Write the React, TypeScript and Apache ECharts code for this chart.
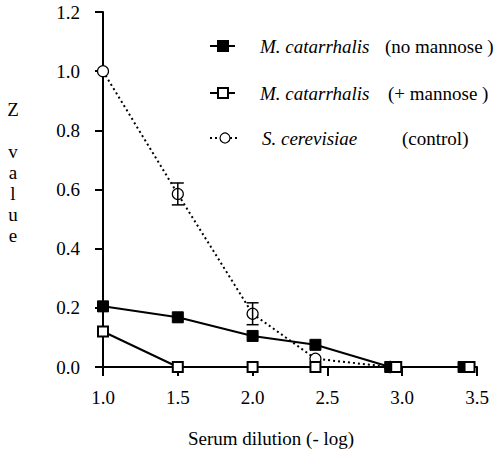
import React, { useEffect, useRef } from "react";
import * as echarts from "echarts";

const FONT = "Liberation Serif";

const xTicks = [1.0, 1.5, 2.0, 2.5, 3.0, 3.5];
const yTicks = [0.0, 0.2, 0.4, 0.6, 0.8, 1.0, 1.2];

const noMannoseX = [1.0, 1.5, 2.0, 2.42, 2.92, 3.41];
const noMannoseY = [0.205, 0.168, 0.105, 0.075, 0.0, 0.0];
const noMannoseErr = [0.015, 0.015, 0.0, 0.01, 0.0, 0.0];

const plusMannoseX = [1.0, 1.5, 2.0, 2.42, 2.96, 3.45];
const plusMannoseY = [0.12, 0.0, 0.0, 0.0, 0.0, 0.0];

const controlX = [1.0, 1.5, 2.0, 2.42, 2.92];
const controlY = [1.0, 0.585, 0.18, 0.028, 0.0];
const controlErr = [0.0, 0.037, 0.037, 0.0, 0.0];

const legendNames = ["M. catarrhalis", "M. catarrhalis", "S. cerevisiae"];
const legendNotes = ["(no mannose )", "(+ mannose )", "(control)"];

const zip = (xs: number[], ys: number[]) => xs.map((x, i) => [x, ys[i]]);

function errorSeries(xs: number[], ys: number[], es: number[], cap: number) {
  const data = xs
    .map((x, i) => [x, ys[i], es[i]])
    .filter((d) => d[2] > 0);
  return {
    type: "custom",
    z: 5,
    data,
    renderItem: (params: any, api: any) => {
      const x = api.value(0);
      const y = api.value(1);
      const e = api.value(2);
      const top = api.coord([x, y + e]);
      const bot = api.coord([x, y - e]);
      const style = { stroke: "#000", lineWidth: 1.5 };
      return {
        type: "group",
        children: [
          { type: "line", shape: { x1: top[0], y1: top[1], x2: bot[0], y2: bot[1] }, style },
          { type: "line", shape: { x1: top[0] - cap, y1: top[1], x2: top[0] + cap, y2: top[1] }, style },
          { type: "line", shape: { x1: bot[0] - cap, y1: bot[1], x2: bot[0] + cap, y2: bot[1] }, style },
        ],
      };
    },
  };
}

export default function App() {
  const ref = useRef<HTMLDivElement>(null);
  useEffect(() => {
    if (!ref.current) return;
    const chart = echarts.init(ref.current, null, { renderer: "svg" });
    const fs = 19;
    const rows = [46, 93, 138];
    const legendGraphics: any[] = [];
    rows.forEach((y, i) => {
      if (i < 2) {
        legendGraphics.push({
          type: "line",
          shape: { x1: 210, y1: y, x2: 235, y2: y },
          style: { stroke: "#000", lineWidth: 2 },
        });
        legendGraphics.push({
          type: "rect",
          shape: { x: 218, y: y - 5, width: 10, height: 10 },
          style: { fill: i === 0 ? "#000" : "#fff", stroke: "#000", lineWidth: 2 },
        });
      } else {
        legendGraphics.push({
          type: "line",
          shape: { x1: 210, y1: y, x2: 240, y2: y },
          style: { stroke: "#000", lineWidth: 2, lineDash: [2, 3] },
        });
        legendGraphics.push({
          type: "circle",
          shape: { cx: 225, cy: y, r: 5 },
          style: { fill: "#fff", stroke: "#000", lineWidth: 1.2 },
        });
      }
      legendGraphics.push({
        type: "text",
        style: {
          text: legendNames[i],
          x: i === 2 ? 262 : 260,
          y,
          fill: "#000",
          fontFamily: FONT,
          fontSize: fs,
          fontStyle: "italic",
          align: "left",
          verticalAlign: "middle",
        },
      });
      legendGraphics.push({
        type: "text",
        style: {
          text: legendNotes[i],
          x: [385, 388, 402][i],
          y,
          fill: "#000",
          fontFamily: FONT,
          fontSize: fs,
          align: "left",
          verticalAlign: "middle",
        },
      });
    });

    const yTitleLetters = ["Z", "", "v", "a", "l", "u", "e"];
    const yTitle = yTitleLetters.map((ch, i) => ({
      type: "text",
      style: {
        text: ch,
        x: 13,
        y: 109 + i * 21,
        fill: "#000",
        fontFamily: FONT,
        fontSize: fs,
        align: "center",
        verticalAlign: "middle",
      },
    }));

    chart.setOption({
      animation: false,
      backgroundColor: "#fff",
      textStyle: { fontFamily: FONT },
      grid: { left: 103, right: 21, top: 12, bottom: 83, containLabel: false },
      xAxis: {
        type: "value",
        min: xTicks[0],
        max: xTicks[xTicks.length - 1],
        interval: 0.5,
        axisLine: { show: true, onZero: false, lineStyle: { color: "#000", width: 2 } },
        axisTick: { show: true, length: 9, lineStyle: { color: "#000", width: 2 } },
        axisLabel: {
          color: "#000",
          fontFamily: FONT,
          fontSize: fs,
          margin: 21,
          formatter: (v: number) => v.toFixed(1),
        },
        splitLine: { show: false },
      },
      yAxis: {
        type: "value",
        min: yTicks[0],
        max: yTicks[yTicks.length - 1],
        interval: 0.2,
        axisLine: { show: true, lineStyle: { color: "#000", width: 2 } },
        axisTick: { show: true, length: 8, lineStyle: { color: "#000", width: 2 } },
        axisLabel: {
          color: "#000",
          fontFamily: FONT,
          fontSize: fs,
          margin: 23,
          formatter: (v: number) => v.toFixed(1),
        },
        splitLine: { show: false },
      },
      graphic: [
        ...legendGraphics,
        ...yTitle,
        {
          type: "text",
          style: {
            text: "Serum dilution (- log)",
            x: 271,
            y: 438,
            fill: "#000",
            fontFamily: FONT,
            fontSize: fs,
            align: "center",
            verticalAlign: "middle",
          },
        },
      ],
      series: [
        {
          name: "S. cerevisiae (control)",
          type: "line",
          data: zip(controlX, controlY),
          symbol: "circle",
          symbolSize: 11,
          z: 3,
          lineStyle: { color: "#000", width: 2, type: [2, 3] },
          itemStyle: { color: "#fff", borderColor: "#000", borderWidth: 1.2 },
        },
        errorSeries(controlX, controlY, controlErr, 6),
        {
          name: "M. catarrhalis (no mannose)",
          type: "line",
          data: zip(noMannoseX, noMannoseY),
          symbol: "rect",
          symbolSize: 11,
          z: 4,
          lineStyle: { color: "#000", width: 2 },
          itemStyle: { color: "#000", borderColor: "#000", borderWidth: 1 },
        },
        errorSeries(noMannoseX, noMannoseY, noMannoseErr, 5),
        {
          name: "M. catarrhalis (+ mannose)",
          type: "line",
          data: zip(plusMannoseX, plusMannoseY),
          symbol: "rect",
          symbolSize: 10,
          z: 6,
          lineStyle: { color: "#000", width: 2 },
          itemStyle: { color: "#fff", borderColor: "#000", borderWidth: 2 },
        },
      ],
    });
    return () => chart.dispose();
  }, []);
  return <div ref={ref} style={{ width: 498, height: 450, position: "absolute", left: 0, top: 0 }} />;
}
